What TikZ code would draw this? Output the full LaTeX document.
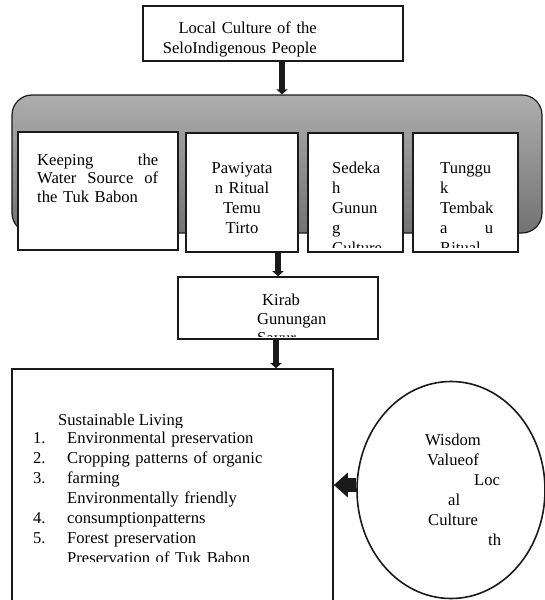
\documentclass[tikz,border=0pt]{standalone}
\usepackage{fontspec}
\setmainfont{Liberation Serif}
\usepackage{tikz}
\usetikzlibrary{arrows.meta, shapes.geometric}
\definecolor{inkcol}{RGB}{26,26,26}
\newcommand{\boxfont}{\fontsize{16.6pt}{20pt}\selectfont}

\begin{document}
\begin{tikzpicture}[
  x=1pt, y=-1pt,
  font=\boxfont,
  cbox/.style={draw=inkcol, line width=1.6pt, fill=white, inner sep=0pt},
  txt/.style={inner sep=0pt, anchor=base west, align=left},
  arr/.style={-{Triangle[width=11pt,length=5pt]}, line width=5.5pt, draw=inkcol},
  fat/.style={-{Triangle[width=24pt,length=14pt]}, line width=14pt, draw=inkcol}
]
\useasboundingbox (0,0) rectangle (544,600);

%% ---- title ----
\node[cbox, minimum width=260pt, minimum height=55pt] (title) at (273,33.5) {};
\node[inner sep=0pt, anchor=base east, text width=170pt, align=right] (titletxt) at (317,33)
  {Local Culture of the\\SeloIndigenous People};

%% ---- grey band with the four rituals ----
\node[draw=inkcol, line width=1.2pt, rounded corners=20pt, top color=black!32,
      bottom color=black!55, minimum width=530pt, minimum height=138pt] (band) at (277,164) {};

\draw[arr] ([xshift=9pt]title.south) -- ([xshift=9pt]title.south |- band.north);

\node[cbox, minimum width=160pt, minimum height=118pt] (tuk)       at (98,191)    {};
\node[cbox, minimum width=112pt, minimum height=119pt] (pawiyatan) at (242,192.5) {};
\node[cbox, minimum width=95pt,  minimum height=119pt] (sedekah)   at (355.5,192.5) {};
\node[cbox, minimum width=105pt, minimum height=119pt] (tungguk)   at (465.5,192.5) {};

\node[txt, text width=121pt, font=\fontsize{16.6pt}{18.5pt}\selectfont] (tuktxt) at (37,165)
  {Keeping\hfill the\\Water\hfill Source\hfill of\\the Tuk Babon};
\node[inner sep=0pt, anchor=base, align=center, text width=100pt] (pawtxt) at (242,173)
  {Pawiyata\\n Ritual\\Temu\\Tirto};
\begin{scope}
  \clip ([shift={(1,1)}]sedekah.north west) rectangle ([shift={(-1,-5)}]sedekah.south east);
  \node[txt, text width=65pt] (sedtxt) at (332,173) {Sedeka\\h\\Gunun\\g\\Culture};
\end{scope}
\begin{scope}
  \clip ([shift={(1,1)}]tungguk.north west) rectangle ([shift={(-1,-5)}]tungguk.south east);
  \node[txt, text width=53pt] (tugtxt) at (440,173) {Tunggu\\k\\Tembak\\a\hfill u\\Ritual};
\end{scope}

%% ---- kirab ----
\node[cbox, minimum width=200pt, minimum height=62pt] (kirab) at (278,308) {};
\draw[arr] (kirab.north |- pawiyatan.south) -- (kirab.north);
\begin{scope}
  \clip ([shift={(1,1)}]kirab.north west) rectangle ([shift={(-1,-3)}]kirab.south east);
  \node[txt, text width=110pt, font=\fontsize{16.6pt}{19pt}\selectfont] (kirtxt) at (257,305)
    {\hspace*{5pt}Kirab\\Gunungan\\Sayur};
\end{scope}

%% ---- sustainable living ----
\node[cbox, minimum width=321pt, minimum height=241pt] (living) at (172.5,489.5) {};
\draw[arr] ([xshift=-2pt]kirab.south) -- ([xshift=-2pt]kirab.south |- living.north);
\begin{scope}
  \clip (20,400) rectangle (320,427);
  \node[txt] (livhead) at (58,425) {Sustainable Living};
\end{scope}
\begin{scope}
  \clip (20,428) rectangle (320,561);
  \node[txt, text width=285pt] (livlist) at (33,443)
    {\makebox[34pt][l]{1.}Environmental preservation\\
     \makebox[34pt][l]{2.}Cropping patterns of organic\\
     \makebox[34pt][l]{3.}farming\\
     \makebox[34pt][l]{}Environmentally friendly\\
     \makebox[34pt][l]{4.}consumptionpatterns\\
     \makebox[34pt][l]{5.}Forest preservation\\
     \makebox[34pt][l]{}Preservation of Tuk Babon};
\end{scope}

%% ---- wisdom ----
\node[ellipse, draw=inkcol, line width=1.6pt, minimum width=188pt, minimum height=217pt,
      inner sep=0pt] (wisdom) at (451,490) {};
\node[txt, text width=100pt] (wistxt) at (425,445)
  {Wisdom\\\hspace*{2pt}Valueof\\\hspace*{49pt}Loc\\\hspace*{23pt}al\\
   \hspace*{3pt}Culture\\\hspace*{63pt}th};
\coordinate (wtail) at ([yshift=5pt]wisdom.west);
\draw[fat] (wtail) -- (wtail -| living.east);

\end{tikzpicture}
\end{document}
